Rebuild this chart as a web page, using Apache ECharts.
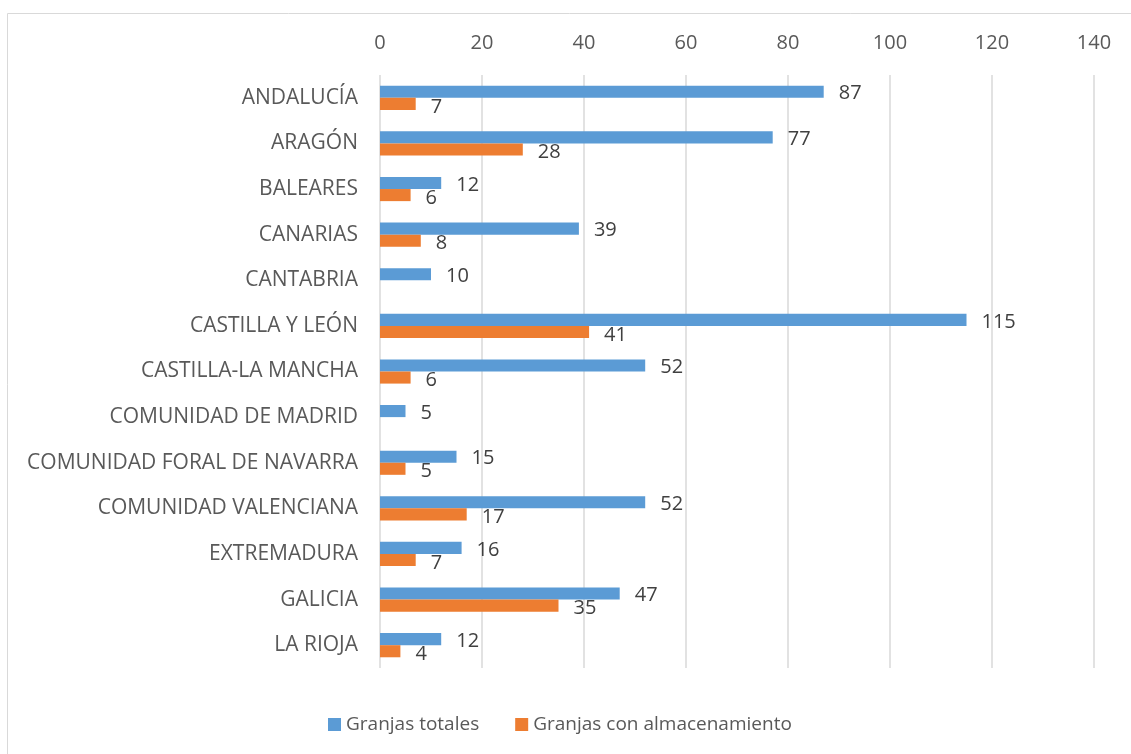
<!DOCTYPE html>
<html>
<head>
<meta charset="utf-8">
<script src="https://cdn.jsdelivr.net/npm/echarts@6/dist/echarts.min.js"></script>
<style>
  html, body { margin: 0; padding: 0; background: #fff; }
  #chart { width: 1131px; height: 754px; }
</style>
</head>
<body>
<div id="chart"></div>
<script>
// datos
const regiones = [
  "ANDALUCÍA", "ARAGÓN", "BALEARES", "CANARIAS", "CANTABRIA",
  "CASTILLA Y LEÓN", "CASTILLA-LA MANCHA", "COMUNIDAD DE MADRID",
  "COMUNIDAD FORAL DE NAVARRA", "COMUNIDAD VALENCIANA", "EXTREMADURA",
  "GALICIA", "LA RIOJA"
];
const granjasTotales = [87, 77, 12, 39, 10, 115, 52, 5, 15, 52, 16, 47, 12];
const granjasAlmacenamiento = [7, 28, 6, 8, null, 41, 6, null, 5, 17, 7, 35, 4];

const fuente = "'Open Sans', 'Noto Sans', sans-serif";

const chart = echarts.init(document.getElementById("chart"));

chart.setOption({
  animation: false,
  textStyle: { fontFamily: fuente },
  graphic: [
    {
      type: "rect",
      shape: { x: 7.5, y: 13.5, width: 1200, height: 800 },
      style: { fill: "none", stroke: "#d9d9d9", lineWidth: 1 },
      silent: true
    }
  ],
  grid: { left: 380, right: 37, top: 75, bottom: 86 },
  legend: {
    top: 710,
    left: 323,
    itemWidth: 13,
    itemHeight: 13,
    itemGap: 36,
    icon: "rect",
    textStyle: { fontSize: 19, color: "#595959", fontFamily: fuente },
    data: ["Granjas totales", "Granjas con almacenamiento"]
  },
  xAxis: {
    type: "value",
    position: "top",
    min: 0,
    max: 140,
    interval: 20,
    axisLine: { show: false },
    axisTick: { show: false },
    axisLabel: { fontSize: 20, color: "#595959", margin: 22, fontFamily: fuente },
    splitLine: { lineStyle: { color: "#d9d9d9", width: 1.5 } }
  },
  yAxis: {
    type: "category",
    inverse: true,
    data: regiones,
    axisLine: { show: false },
    axisTick: { show: false },
    axisLabel: { fontSize: 21, color: "#595959", margin: 22, fontFamily: fuente }
  },
  series: [
    {
      name: "Granjas totales",
      type: "bar",
      data: granjasTotales,
      barGap: "0%",
      barCategoryGap: "47%",
      itemStyle: { color: "#5b9bd5" },
      label: {
        show: true,
        position: "right",
        distance: 15,
        offset: [0, 2],
        fontSize: 20,
        color: "#404040",
        fontFamily: fuente
      }
    },
    {
      name: "Granjas con almacenamiento",
      type: "bar",
      data: granjasAlmacenamiento,
      barGap: "0%",
      barCategoryGap: "47%",
      itemStyle: { color: "#ed7d31" },
      label: {
        show: true,
        position: "right",
        distance: 15,
        offset: [0, 3],
        fontSize: 20,
        color: "#404040",
        fontFamily: fuente
      }
    }
  ]
});
</script>
</body>
</html>
